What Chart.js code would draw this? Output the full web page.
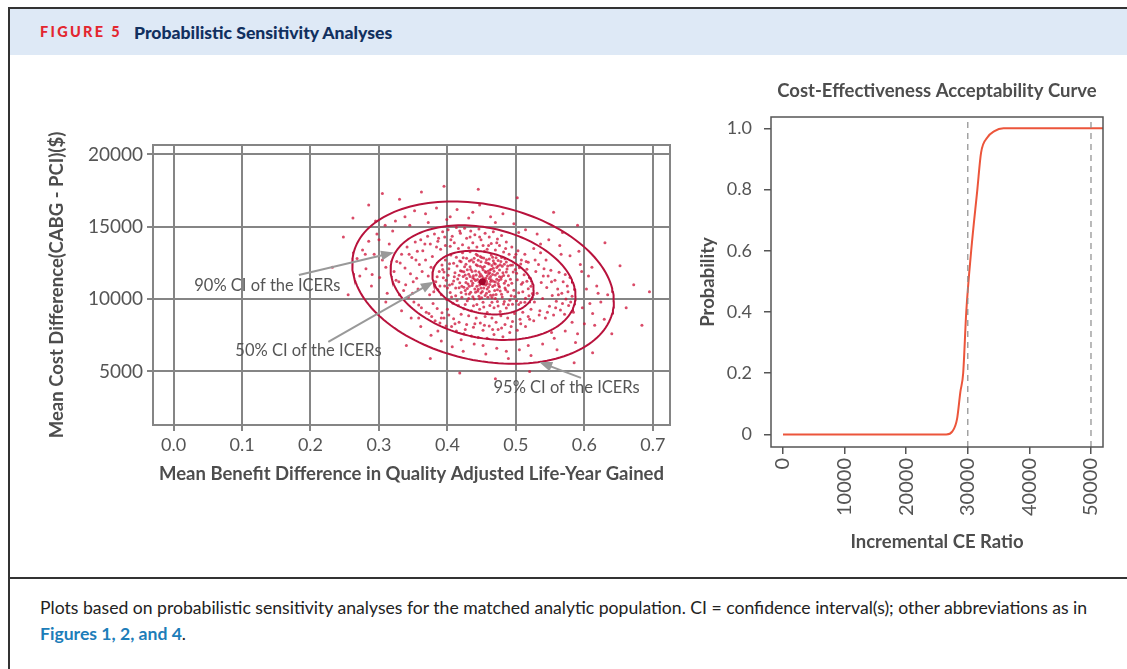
<!DOCTYPE html>
<html>
<head>
<meta charset="utf-8">
<script src="https://cdn.jsdelivr.net/npm/chart.js@4.4.1/dist/chart.umd.min.js"></script>
<style>
  html, body { margin: 0; padding: 0; background: #fff; }
  body { width: 1127px; height: 669px; position: relative; overflow: hidden; font-family: Lato, "Open Sans", sans-serif; }
  .frame { position: absolute; left: 8px; top: 7px; width: 1140px; height: 700px; border-top: 2px solid #333; border-left: 2px solid #333; }
  .head { position: absolute; left: 10px; top: 9px; width: 1117px; height: 46px; background: #dee9f6; }
  .fig { position: absolute; left: 30px; top: 14px; font-weight: 900; font-size: 14.5px; letter-spacing: 2.3px; color: #e3262f; }
  .ttl { position: absolute; left: 124px; top: 13px; font-weight: 900; font-size: 17.6px; color: #11305f; }
  .rule { position: absolute; left: 10px; top: 577px; width: 1117px; height: 2px; background: #333; }
  .cap { position: absolute; left: 40px; top: 595px; font-size: 17.6px; line-height: 26px; color: #222; }
  .cap b { color: #1c7db9; }
  #left { position: absolute; left: 40px; top: 120px; }
  #right { position: absolute; left: 690px; top: 70px; }
</style>
</head>
<body>
<div class="frame"></div>
<div class="head"><span class="fig">FIGURE 5</span><span class="ttl">Probabilistic Sensitivity Analyses</span></div>
<canvas id="left" width="650" height="380"></canvas>
<canvas id="right" width="437" height="490"></canvas>
<div class="rule"></div>
<div class="cap">Plots based on probabilistic sensitivity analyses for the matched analytic population. CI = confidence interval(s); other abbreviations as in<br><b>Figures 1, 2, and 4</b>.</div>
<script>
// left panel: cost-effectiveness plane
const qalyTicks = [0, 0.1, 0.2, 0.3, 0.4, 0.5, 0.6, 0.7];
const costTicks = [5000, 10000, 15000, 20000];

// simulated ICER cloud (QALY, cost)
const cloudPoints = [
  [0.383,11200],[0.386,10650],[0.388,11900],[0.391,10300],[0.392,12350],[0.394,11480],[0.396,10900],[0.397,12700],[0.399,9980],[0.401,11650],
  [0.402,12100],[0.404,10450],[0.405,13050],[0.407,11050],[0.408,9720],[0.409,12480],[0.411,11820],[0.412,10230],[0.413,12900],[0.415,11390],
  [0.416,9560],[0.417,10780],[0.418,12640],[0.419,11960],[0.421,10120],[0.422,13200],[0.423,11560],[0.424,9340],[0.425,12230],[0.426,10590],
  [0.427,11140],[0.428,12820],[0.429,9880],[0.431,11720],[0.432,10360],[0.433,13280],[0.434,12040],[0.435,9190],[0.436,10940],[0.437,11480],
  [0.438,12560],[0.439,10010],[0.441,11290],[0.442,13100],[0.443,9620],[0.444,12310],[0.445,10680],[0.446,11870],[0.447,9300],[0.448,12950],
  [0.449,10420],[0.450,11610],[0.451,12180],[0.452,9790],[0.453,11020],[0.454,13310],[0.455,10250],[0.456,11450],[0.457,12720],[0.458,9080],
  [0.459,11930],[0.460,10830],[0.461,12420],[0.462,9560],[0.463,11210],[0.464,13040],[0.465,10110],[0.466,11700],[0.467,12130],[0.468,9410],
  [0.469,10590],[0.471,12860],[0.472,11380],[0.473,9830],[0.474,12290],[0.475,10920],[0.476,11540],[0.477,9150],[0.478,12600],[0.479,10340],
  [0.481,11830],[0.482,9670],[0.483,12410],[0.484,10760],[0.485,11260],[0.486,9380],[0.487,12080],[0.488,10500],[0.489,11610],[0.491,9920],
  [0.492,12340],[0.493,10230],[0.494,11090],[0.495,9640],[0.496,11870],[0.497,10610],[0.499,12050],[0.501,9890],[0.502,11330],[0.504,10440],
  [0.505,12170],[0.507,9770],[0.508,11020],[0.510,10510],[0.512,11680],[0.514,10060],[0.516,11240],[0.518,10720],[0.521,11450],[0.524,10380],
  [0.430,11050],[0.436,11900],[0.440,10700],[0.444,11350],[0.447,10980],[0.450,11230],[0.453,10760],[0.456,11840],[0.458,11080],[0.461,10520],
  [0.463,11560],[0.466,10870],[0.468,11920],[0.470,11180],[0.473,10640],[0.476,12020],[0.478,11370],[0.434,10480],[0.438,11620],[0.442,12380],
  [0.446,10200],[0.449,12590],[0.452,11480],[0.455,11900],[0.457,10410],[0.459,12480],[0.462,11010],[0.465,12320],[0.467,10290],[0.470,11660],
  [0.426,11670],[0.429,10740],[0.433,12240],[0.437,10160],[0.441,11950],[0.445,12690],[0.448,11740],[0.451,10520],[0.454,12260],[0.458,11590],
  [0.461,12770],[0.464,11340],[0.467,12650],[0.469,10960],[0.472,12180],[0.474,11080],[0.477,10560],[0.480,12270],[0.483,11090],[0.486,11870],
  [0.418,11130],[0.421,11920],[0.424,10820],[0.427,12410],[0.431,10040],[0.435,11260],[0.439,12820],[0.443,10890],[0.447,11560],[0.450,10090],
  [0.453,12840],[0.456,10970],[0.460,11760],[0.463,10260],[0.466,12900],[0.470,10050],[0.474,12660],[0.479,11530],[0.484,12790],[0.489,10950],
  [0.410,11540],[0.414,12280],[0.403,10980],[0.395,11870],[0.400,10760],[0.412,10760],[0.420,12590],[0.428,11420],[0.432,12640],[0.437,11100],
  [0.385,11550],[0.389,10900],[0.393,12050],[0.398,11300],[0.403,12450],[0.406,10150],[0.409,11250],[0.414,9900],[0.417,11650],[0.420,10450],
  [0.423,12850],[0.426,9620],[0.429,12030],[0.432,10880],[0.435,12710],[0.438,9540],[0.441,10470],[0.444,13020],[0.447,10020],[0.450,12870],
  [0.453,9450],[0.456,12530],[0.459,10120],[0.462,12010],[0.465,9780],[0.468,12470],[0.471,10310],[0.474,9530],[0.477,12380],[0.480,10140],
  [0.483,9840],[0.486,12560],[0.489,9610],[0.492,11380],[0.495,12360],[0.498,10180],[0.501,11780],[0.504,9620],[0.507,12420],[0.510,11150],
  [0.513,9780],[0.516,12060],[0.519,10230],[0.522,10890],[0.442,11660],[0.446,11180],[0.449,10760],[0.452,12030],[0.455,11340],[0.458,10690],
  [0.461,11420],[0.464,12060],[0.467,11230],[0.470,12420],[0.473,11790],[0.476,10830],[0.479,12880],[0.482,11640],[0.485,10640],[0.488,12290],
  [0.439,11390],[0.433,11560],[0.427,10350],[0.424,11890],[0.421,10890],[0.457,11230],[0.462,11810],[0.448,12270],[0.444,10550],[0.475,11290],
  [0.322,11900],[0.326,12600],[0.329,11200],[0.333,13100],[0.336,10600],[0.338,12150],[0.341,13600],[0.343,10150],[0.346,11750],[0.348,12880],
  [0.351,9800],[0.353,13950],[0.355,11450],[0.357,10700],[0.359,12400],[0.361,14100],[0.362,9400],[0.364,13350],[0.366,10950],[0.368,12700],
  [0.369,9100],[0.371,14350],[0.372,11600],[0.374,10300],[0.375,13800],[0.377,8800],[0.378,12950],[0.379,9700],[0.381,14500],[0.382,8500],
  [0.384,13600],[0.385,9350],[0.387,14200],[0.389,8350],[0.390,13450],[0.392,9050],[0.393,14650],[0.395,8700],[0.397,13700],[0.398,8150],
  [0.401,14800],[0.404,13650],[0.407,14350],[0.410,13900],[0.413,14950],[0.416,13500],[0.419,14550],[0.422,13750],[0.425,14900],[0.428,14200],
  [0.431,13550],[0.434,14700],[0.437,13900],[0.440,14450],[0.443,13600],[0.446,14850],[0.449,14100],[0.452,13700],[0.455,14550],[0.458,13450],
  [0.461,14300],[0.464,13850],[0.467,14650],[0.470,13400],[0.473,14150],[0.476,13700],[0.479,14400],[0.482,13250],[0.486,13950],[0.490,13100],
  [0.494,13600],[0.498,12900],[0.503,13350],[0.508,12700],[0.513,13100],[0.518,12550],
  [0.402,8900],[0.406,8100],[0.409,8650],[0.413,7800],[0.417,8400],[0.420,8950],[0.424,7600],[0.428,8250],[0.431,8850],[0.435,7450],
  [0.438,8050],[0.442,8700],[0.445,7350],[0.448,8350],[0.452,7850],[0.455,8800],[0.458,7300],[0.461,8150],[0.465,8700],[0.468,7550],
  [0.471,8400],[0.474,7900],[0.478,8850],[0.481,7400],[0.484,8250],[0.488,8700],[0.491,7700],[0.495,8450],[0.498,9000],[0.502,7850],
  [0.506,8600],[0.510,9100],[0.514,8100],[0.518,8800],[0.522,9300],[0.526,8500],
  [0.527,9800],[0.529,11900],[0.531,10400],[0.533,12400],[0.535,9200],[0.537,11150],[0.539,10050],[0.541,12100],[0.543,8700],[0.545,10800],
  [0.547,11600],[0.549,9500],[0.551,12000],[0.553,10250],[0.555,8900],[0.557,11300],[0.559,9850],[0.561,10700],[0.563,11850],[0.565,9250],
  [0.567,10400],[0.569,11200],[0.571,8950],[0.573,10000],[0.575,10900],[0.577,9550],[0.579,11500],[0.582,10200],[0.584,9100],[0.586,10650],
  [0.325,11300],[0.331,12500],[0.339,11000],[0.344,13100],[0.349,10400],[0.354,12700],[0.358,9600],[0.363,11900],[0.367,13800],[0.373,9000],
  [0.376,12200],[0.380,10500],[0.386,14000],[0.391,8700],[0.396,14300],[0.400,9300],[0.405,14100],[0.411,8300],[0.418,14700],[0.426,7900],
  [0.433,14300],[0.440,8300],[0.447,14300],[0.454,8200],[0.460,13700],[0.466,7900],[0.472,13900],[0.479,8000],[0.485,13500],[0.493,8100],
  [0.500,13100],[0.507,8300],[0.515,12600],[0.520,8600],[0.528,12700],[0.534,8900],[0.540,11600],[0.546,9100],[0.552,11200],[0.558,9400],
  [0.562,10300],[0.568,9700],[0.572,11700],[0.576,10500],[0.580,9800],[0.544,12700],[0.536,13200],[0.526,13500],[0.356,13300],[0.350,11200],
  [0.268,12800],[0.272,11600],[0.276,13400],[0.281,12100],[0.285,14000],[0.289,10900],[0.293,13100],[0.297,14500],[0.301,11500],[0.305,12700],
  [0.309,15100],[0.312,10400],[0.315,13800],[0.324,15400],[0.333,9200],[0.338,15700],[0.347,8700],[0.352,16100],[0.361,8100],[0.368,15900],
  [0.376,7500],[0.384,16300],[0.391,7100],[0.399,15500],[0.407,6700],[0.414,16200],[0.423,6400],[0.431,15600],[0.439,6900],[0.447,16500],
  [0.456,6200],[0.463,15700],[0.472,6600],[0.481,15900],[0.489,5900],[0.497,15200],[0.505,6500],[0.514,14800],[0.522,6100],[0.531,14500],
  [0.539,6900],[0.548,14100],[0.556,7300],[0.564,13700],[0.572,7800],[0.579,13000],[0.587,7000],[0.594,12400],[0.600,8300],[0.606,11600],
  [0.612,9000],[0.618,10900],[0.624,9800],[0.629,8600],[0.634,10300],[0.597,9400],[0.603,10700],[0.611,12200],[0.592,13300],[0.568,14600],
  [0.280,13100],[0.290,11700],[0.300,14100],[0.310,12200],[0.320,14700],[0.330,10300],[0.345,15100],[0.358,8700],[0.372,15300],[0.386,7800],
  [0.404,15700],[0.420,7200],[0.437,16000],[0.452,6800],[0.470,15300],[0.486,6400],[0.504,14600],[0.518,6800],[0.536,13800],[0.552,7700],
  [0.566,13100],[0.582,8400],[0.596,11900],[0.608,9700],[0.620,10400],[0.615,8200],[0.590,7600],[0.560,6500],[0.310,9800],[0.295,15400],
  [0.232,12200],[0.248,14300],[0.255,10300],[0.262,15600],[0.285,16500],[0.305,17300],[0.330,16900],[0.362,17400],[0.395,17800],[0.418,4900],
  [0.445,17600],[0.470,4500],[0.502,17000],[0.520,5000],[0.555,16000],[0.585,5600],[0.612,6300],[0.640,7600],[0.652,12300],[0.661,9400],
  [0.672,11000],[0.684,8200],[0.695,10500],[0.590,15100],[0.630,13900],[0.375,5900],[0.340,6800]
];
const meanPoint = [0.451, 11200];

// confidence ellipses: 50%, 90%, 95% (center, half-widths, tilt)
const ellipseCenter = [0.452, 11140];
const ellipseRx = [0.074, 0.135, 0.191];
const ellipseRy = [2200, 3960, 5610];
const ellipseRho = -0.23;

const ciLabels = ['50% CI of the ICERs', '90% CI of the ICERs', '95% CI of the ICERs'];
const ciLabelAt = [[0.197, 6450], [0.137, 10920], [0.574, 3860]];
const ciArrowFrom = [[0.226, 7040], [0.183, 11670], [0.595, 4560]];
const ciArrowTo = [[0.380, 11200], [0.322, 13220], [0.534, 5650]];

// right panel: acceptability curve
const ceTicks = [0, 10000, 20000, 30000, 40000, 50000];
const probTicks = [0, 0.2, 0.4, 0.6, 0.8, 1.0];
const ceRatio = [0, 5000, 10000, 15000, 20000, 25000, 26500, 27500, 28250, 28800, 29250, 29750, 30550, 31550, 32150, 33170, 34250, 35800, 40000, 45000, 50000, 51950];
const ceProb  = [0, 0, 0, 0, 0, 0, 0, 0.01, 0.05, 0.14, 0.2, 0.4, 0.6, 0.8, 0.92, 0.97, 0.99, 1, 1, 1, 1, 1];
const thresholds = [30000, 50000];

const TXT = '#4d4d4d';

function ellipsePoints(i) {
  const th = Math.acos(ellipseRho);
  const pts = [];
  for (let k = 0; k <= 160; k++) {
    const t = k / 160 * 2 * Math.PI;
    pts.push({ x: ellipseCenter[0] + ellipseRx[i] * Math.cos(t), y: ellipseCenter[1] + ellipseRy[i] * Math.cos(t - th) });
  }
  return pts;
}

const framePlugin = {
  id: 'frame',
  afterDraw(chart, args, opts) {
    const { ctx, chartArea: a } = chart;
    ctx.save();
    ctx.strokeStyle = opts.color;
    ctx.lineWidth = opts.width;
    ctx.strokeRect(a.left, a.top, a.right - a.left, a.bottom - a.top);
    ctx.restore();
  }
};

// title centred over the plot area, not the whole canvas
const panelTitle = {
  id: 'panelTitle',
  afterDraw(chart, args, opts) {
    if (!opts.text) return;
    const { ctx, chartArea: a } = chart;
    ctx.save();
    ctx.font = 'bold 18.5px Lato';
    ctx.fillStyle = TXT;
    ctx.textAlign = 'center';
    ctx.textBaseline = 'middle';
    ctx.fillText(opts.text, (a.left + a.right) / 2, opts.y);
    ctx.restore();
  }
};

const ciNotes = {
  id: 'ciNotes',
  afterDatasetsDraw(chart) {
    const { ctx, scales: { x, y } } = chart;
    ctx.save();
    ciLabels.forEach((txt, i) => {
      const x0 = x.getPixelForValue(ciArrowFrom[i][0]), y0 = y.getPixelForValue(ciArrowFrom[i][1]);
      const x1 = x.getPixelForValue(ciArrowTo[i][0]), y1 = y.getPixelForValue(ciArrowTo[i][1]);
      const a = Math.atan2(y1 - y0, x1 - x0);
      const c = Math.cos(a), s = Math.sin(a);
      ctx.strokeStyle = '#999';
      ctx.fillStyle = '#999';
      ctx.lineWidth = 2;
      ctx.beginPath();
      ctx.moveTo(x0, y0);
      ctx.lineTo(x1 - 10 * c, y1 - 10 * s);
      ctx.stroke();
      ctx.beginPath();
      ctx.moveTo(x1, y1);
      ctx.lineTo(x1 - 13 * c + 5 * s, y1 - 13 * s - 5 * c);
      ctx.lineTo(x1 - 13 * c - 5 * s, y1 - 13 * s + 5 * c);
      ctx.closePath();
      ctx.fill();
      ctx.fillStyle = '#555';
      ctx.font = '16.5px Lato';
      ctx.textAlign = 'center';
      ctx.textBaseline = 'middle';
      ctx.fillText(txt, x.getPixelForValue(ciLabelAt[i][0]), y.getPixelForValue(ciLabelAt[i][1]));
    });
    ctx.restore();
  }
};

const ellipseSets = ellipseRx.map((r, i) => ({
  type: 'line',
  data: ellipsePoints(i),
  borderColor: '#b8123c',
  borderWidth: 2,
  pointRadius: 0,
  tension: 0,
  order: 0
}));

new Chart(document.getElementById('left'), {
  type: 'scatter',
  data: {
    datasets: [
      ...ellipseSets,
      { data: [{ x: meanPoint[0], y: meanPoint[1] }], pointRadius: 3.5, backgroundColor: '#a3052b', borderWidth: 0, order: 1 },
      { data: cloudPoints.map(p => ({ x: p[0], y: p[1] })), pointRadius: 1.5, backgroundColor: 'rgba(208,24,62,0.78)', borderWidth: 0, order: 2 }
    ]
  },
  options: {
    responsive: false,
    animation: false,
    layout: { padding: { top: 25, right: 20, left: 0, bottom: 0 } },
    plugins: { legend: { display: false }, tooltip: { enabled: false }, frame: { color: '#858585', width: 2 } },
    scales: {
      x: {
        type: 'linear', min: -0.03, max: 0.725,
        afterBuildTicks: s => { s.ticks = qalyTicks.map(v => ({ value: v })); },
        afterFit: s => { s.height = 75; },
        grid: { color: '#858585', lineWidth: 2, tickLength: 6 },
        border: { display: false },
        ticks: { font: { size: 18, family: 'Lato' }, color: '#555', padding: 3, maxRotation: 0, callback: v => v.toFixed(1) },
        title: { display: true, text: 'Mean Benefit Difference in Quality Adjusted Life-Year Gained', font: { size: 18.5, weight: 'bold', family: 'Lato' }, color: TXT, padding: { top: 15, bottom: 15 } }
      },
      y: {
        type: 'linear', min: 1300, max: 20650,
        afterBuildTicks: s => { s.ticks = costTicks.map(v => ({ value: v })); },
        afterFit: s => { s.width = 113; },
        grid: { color: '#858585', lineWidth: 2, tickLength: 6 },
        border: { display: false },
        ticks: { font: { size: 19, family: 'Lato' }, color: '#555', padding: 4, callback: v => String(v) },
        title: { display: true, text: 'Mean Cost Difference(CABG - PCI)($)', font: { size: 18.5, weight: 'bold', family: 'Lato' }, color: TXT, padding: { top: 6, bottom: 6 } }
      }
    }
  },
  plugins: [framePlugin, ciNotes]
});

new Chart(document.getElementById('right'), {
  type: 'line',
  data: {
    datasets: [
      ...thresholds.map(t => ({
        data: [{ x: t, y: -0.041 }, { x: t, y: 1.037 }],
        borderColor: '#8c8c8c', borderWidth: 1.2, borderDash: [6, 5], pointRadius: 0
      })),
      {
        data: ceRatio.map((r, i) => ({ x: r, y: ceProb[i] })),
        borderColor: '#ec553b', borderWidth: 2, pointRadius: 0, cubicInterpolationMode: 'monotone'
      }
    ]
  },
  options: {
    responsive: false,
    animation: false,
    layout: { padding: { top: 47, right: 24, left: 0, bottom: 0 } },
    plugins: {
      legend: { display: false }, tooltip: { enabled: false },
      frame: { color: '#555', width: 1.5 },
      panelTitle: { text: 'Cost-Effectiveness Acceptability Curve', y: 21 }
    },
    scales: {
      x: {
        type: 'linear', min: -1950, max: 51950,
        afterBuildTicks: s => { s.ticks = ceTicks.map(v => ({ value: v })); },
        afterFit: s => { s.height = 113; },
        grid: { drawOnChartArea: false, color: '#555', lineWidth: 1.5, tickLength: 7 },
        border: { display: false },
        ticks: { font: { size: 20, family: 'Lato' }, color: '#555', padding: 4, minRotation: 90, maxRotation: 90, callback: v => String(v) },
        title: { display: true, text: 'Incremental CE Ratio', font: { size: 18.5, weight: 'bold', family: 'Lato' }, color: TXT, padding: { top: 7, bottom: 7 } }
      },
      y: {
        type: 'linear', min: -0.041, max: 1.037,
        afterBuildTicks: s => { s.ticks = probTicks.map(v => ({ value: v })); },
        afterFit: s => { s.width = 81; },
        grid: { drawOnChartArea: false, color: '#555', lineWidth: 1.5, tickLength: 7 },
        border: { display: false },
        ticks: { font: { size: 18, family: 'Lato' }, color: '#555', padding: 12, callback: v => v === 0 ? '0' : v.toFixed(1) },
        title: { display: true, text: 'Probability', font: { size: 18.5, weight: 'bold', family: 'Lato' }, color: TXT, padding: { top: 7, bottom: 7 } }
      }
    }
  },
  plugins: [framePlugin, panelTitle]
});
</script>
</body>
</html>
